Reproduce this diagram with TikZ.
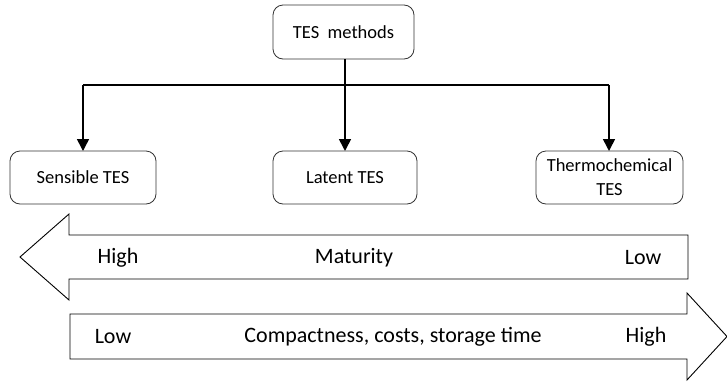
\documentclass[tikz,border=0pt]{standalone}
\usepackage{fontspec}
\setmainfont{Carlito}
\usetikzlibrary{arrows.meta}
\begin{document}
\begin{tikzpicture}[x=1pt,y=-1pt,
  box/.style={draw=black!80,line width=0.8pt,rounded corners=10pt,fill=white},
  btxt/.style={align=center,font=\fontsize{18.5}{24}\selectfont},
  conn/.style={line width=1.6pt,-{Triangle[length=12pt,width=12pt]}},
  big/.style={draw=black,line width=0.9pt,fill=white},
  lab/.style={font=\fontsize{22}{24}\selectfont}]
\useasboundingbox (0,0) rectangle (727,383);
\draw[box] (273,5) rectangle (414,59);
\node[btxt] (m) at (343.5,32) {TES\ \ methods};
\coordinate (mb) at (345,59);
\draw[box] (10,151) rectangle (156,204);
\node[btxt] (s) at (83,177.5) {Sensible TES};
\draw[box] (273,151) rectangle (417,204);
\node[btxt] (l) at (345,177.5) {Latent TES};
\draw[box] (536,151) rectangle (683,204);
\node[btxt] (t) at (609.5,177.5) {Thermochemical\\TES};
\coordinate (st) at (83,151);
\coordinate (lt) at (345,151);
\coordinate (tt) at (609,151);
\coordinate (jl) at (83,85);
\coordinate (jr) at (609,85);
\coordinate (jm) at (345,85);
\draw[line width=1.6pt] (jl) -- (jr);
\draw[line width=1.6pt] (mb) -- (jm);
\draw[conn] (jl) -- (st);
\draw[conn] (jm) -- (lt);
\draw[conn] (jr) -- (tt);
% maturity arrow
\draw[big] (688,235) -- (69,235) -- (69,214) -- (20,257) -- (69,300) -- (69,279) -- (688,279) -- cycle;
\node[lab] (h1) at (118,258) {High};
\node[lab] (mt) at (354,258) {Maturity};
\node[lab] (l1) at (643,258) {Low};
% compactness arrow
\draw[big] (70,314) -- (687,314) -- (687,293) -- (727,336.5) -- (687,380) -- (687,359) -- (70,359) -- cycle;
\node[lab] (l2) at (113,337) {Low};
\node[lab] (cc) at (393,337) {Compactness, costs, storage time};
\node[lab] (h2) at (646,337) {High};
\end{tikzpicture}
\end{document}
